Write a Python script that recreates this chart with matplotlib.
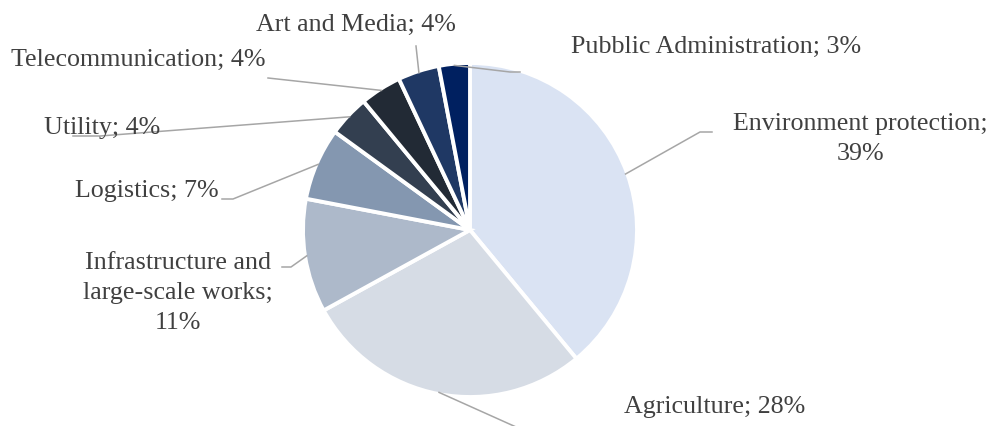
import matplotlib.pyplot as plt
import numpy as np

plt.rcParams.update({'font.family': 'Liberation Serif', 'font.size': 18.7})

W, H = 993, 427

sectors = ["Environment protection", "Agriculture", "Infrastructure and large-scale works",
           "Logistics", "Utility", "Telecommunication", "Art and Media",
           "Pubblic Administration"]
shares = [39, 28, 11, 7, 4, 4, 4, 3]
label_texts = ["Environment protection;\n39%", "Agriculture; 28%",
               "Infrastructure and\nlarge-scale works;\n11%", "Logistics; 7%",
               "Utility; 4%", "Telecommunication; 4%", "Art and Media; 4%",
               "Pubblic Administration; 3%"]
colors = ['#dae3f3', '#d6dce5', '#adb9ca', '#8497b0',
          '#333f50', '#222a35', '#1f3864', '#002060']

# label centres and leader elbows, in pixels from the top-left corner
label_pos = [(860, 139), (715, 407), (178, 293), (147, 191),
             (102, 128), (138, 60), (356, 25), (716, 47)]
leader_elbow = [[(712, 133), (700, 133)], [(525, 432)], [(282, 268), (291, 268)],
                [(222, 200), (233, 200)], [(73, 137), (100, 137)],
                [(268, 79)], [(416, 47)], [(520, 73), (510, 73)]]

center = (470, 231)
radius = 167


def py(y):
    return H - y


fig = plt.figure(figsize=(W / 100, H / 100), dpi=100)
ax = fig.add_axes([0, 0, 1, 1])

wedges, _ = ax.pie(shares, colors=colors, startangle=90, counterclock=False,
                   center=(center[0], py(center[1])), radius=radius,
                   wedgeprops=dict(edgecolor='white', linewidth=2.8))
# pie() resets the limits, so fix the pixel frame afterwards
ax.set_xlim(0, W)
ax.set_ylim(0, H)
ax.set_aspect('equal')
ax.axis('off')

for w, txt, (lx, ly), elbow in zip(wedges, label_texts, label_pos, leader_elbow):
    ang = np.deg2rad((w.theta1 + w.theta2) / 2)
    ex = center[0] + radius * 0.99 * np.cos(ang)
    ey = py(center[1]) + radius * 0.99 * np.sin(ang)
    xs = [p[0] for p in elbow] + [ex]
    ys = [py(p[1]) for p in elbow] + [ey]
    ax.plot(xs, ys, color='#a6a6a6', linewidth=1.1, zorder=1, clip_on=False)
    ax.text(lx, py(ly), txt, ha='center', va='center', color='#404040',
            linespacing=1.45, zorder=3)

fig.savefig('out.png', dpi=100)
